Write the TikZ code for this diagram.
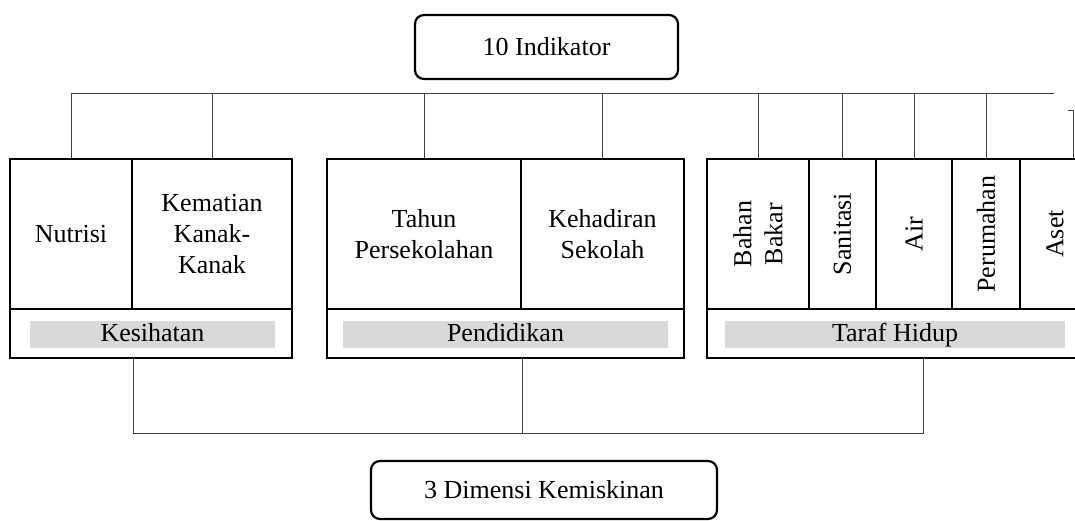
\documentclass[tikz,border=0pt]{standalone}
\usepackage{fontspec}
\setmainfont{Liberation Serif}
\usetikzlibrary{positioning}
\definecolor{bargray}{HTML}{D9D9D9}
\newcommand{\dimfont}{\fontsize{26}{31}\selectfont}

\begin{document}
\begin{tikzpicture}[x=1pt, y=-1pt,
  itembox/.style={draw, line width=2.4pt, inner sep=0pt, minimum height=150pt, align=center, font=\dimfont},
  groupbox/.style={draw, line width=2.4pt, inner sep=0pt, minimum height=49pt},
  graybar/.style={fill=bargray, inner sep=0pt, minimum height=27pt, text height=18pt, text depth=5pt, font=\dimfont},
  roundbox/.style={draw, line width=2.2pt, rounded corners=9pt, inner sep=0pt, font=\dimfont},
  vtext/.style={rotate=90, align=center, inner sep=0pt, font=\dimfont},
  link/.style={line width=1pt, black!75}]
\useasboundingbox (0,0) rectangle (1075,520);
\clip (0,0) rectangle (1075,520);

% Top and bottom headings
\node[roundbox, minimum width=263pt, minimum height=64pt] (indikator) at (546.5,47) {10 Indikator};
\node[roundbox, minimum width=346pt, minimum height=58pt] (dimensi) at (544,490) {3 Dimensi Kemiskinan};

% Kesihatan
\node[itembox, minimum width=122pt] (nutrisi) at (71,234) {Nutrisi};
\node[itembox, minimum width=160pt] (kematian) at (212,234) {Kematian\\Kanak-\\Kanak};
\node[groupbox, minimum width=282pt] (kesihatan) at (151,333.5) {};
\node[graybar, minimum width=245pt] (kesihatanbar) at (152.5,334.5) {Kesihatan};

% Pendidikan
\node[itembox, minimum width=194pt] (tahun) at (424,234) {Tahun\\Persekolahan};
\node[itembox, minimum width=163pt] (kehadiran) at (602.5,234) {Kehadiran\\Sekolah};
\node[groupbox, minimum width=357pt] (pendidikan) at (505.5,333.5) {};
\node[graybar, minimum width=325pt] (pendidikanbar) at (505.5,334.5) {Pendidikan};

% Taraf Hidup
\node[itembox, minimum width=102pt] (bahan) at (758,234) {};
\node[itembox, minimum width=67pt] (sanitasi) at (842.5,234) {};
\node[itembox, minimum width=76pt] (air) at (914,234) {};
\node[itembox, minimum width=68pt] (perumahan) at (986,234) {};
\node[itembox, minimum width=70pt] (aset) at (1055,234) {};
\node[vtext] (bahantext) at (bahan) {Bahan\\Bakar};
\node[vtext] (sanitasitext) at (sanitasi) {Sanitasi};
\node[vtext] (airtext) at (air) {Air};
\node[vtext] (perumahantext) at (perumahan) {Perumahan};
\node[vtext] (asettext) at (aset) {Aset};
\node[groupbox, minimum width=383pt] (taraf) at (898.5,333.5) {};
\node[graybar, minimum width=340pt] (tarafbar) at (895,334.5) {Taraf Hidup};

% Lines from the indicators
\coordinate (topbus) at (0,93);
\coordinate (busend) at (1054,93);
\draw[link] (nutrisi.north |- topbus) -- (busend);
\foreach \n in {nutrisi,kematian,tahun,kehadiran,bahan,sanitasi,air,perumahan}
  \draw[link] (\n.north |- topbus) -- (\n.north);
\coordinate (asettop) at (1073,110);
\draw[link] ([xshift=-5pt]asettop) -- (asettop) -- (asettop |- aset.north);

% Lines to the dimensions
\coordinate (botbus) at (0,433);
\coordinate (tarafdrop) at ([xshift=24.5pt]taraf.south);
\draw[link] (nutrisi.east |- kesihatan.south) -- (nutrisi.east |- botbus) -- (tarafdrop |- botbus) -- (tarafdrop);
\draw[link] (tahun.east |- pendidikan.south) -- (tahun.east |- botbus);
\end{tikzpicture}
\end{document}
